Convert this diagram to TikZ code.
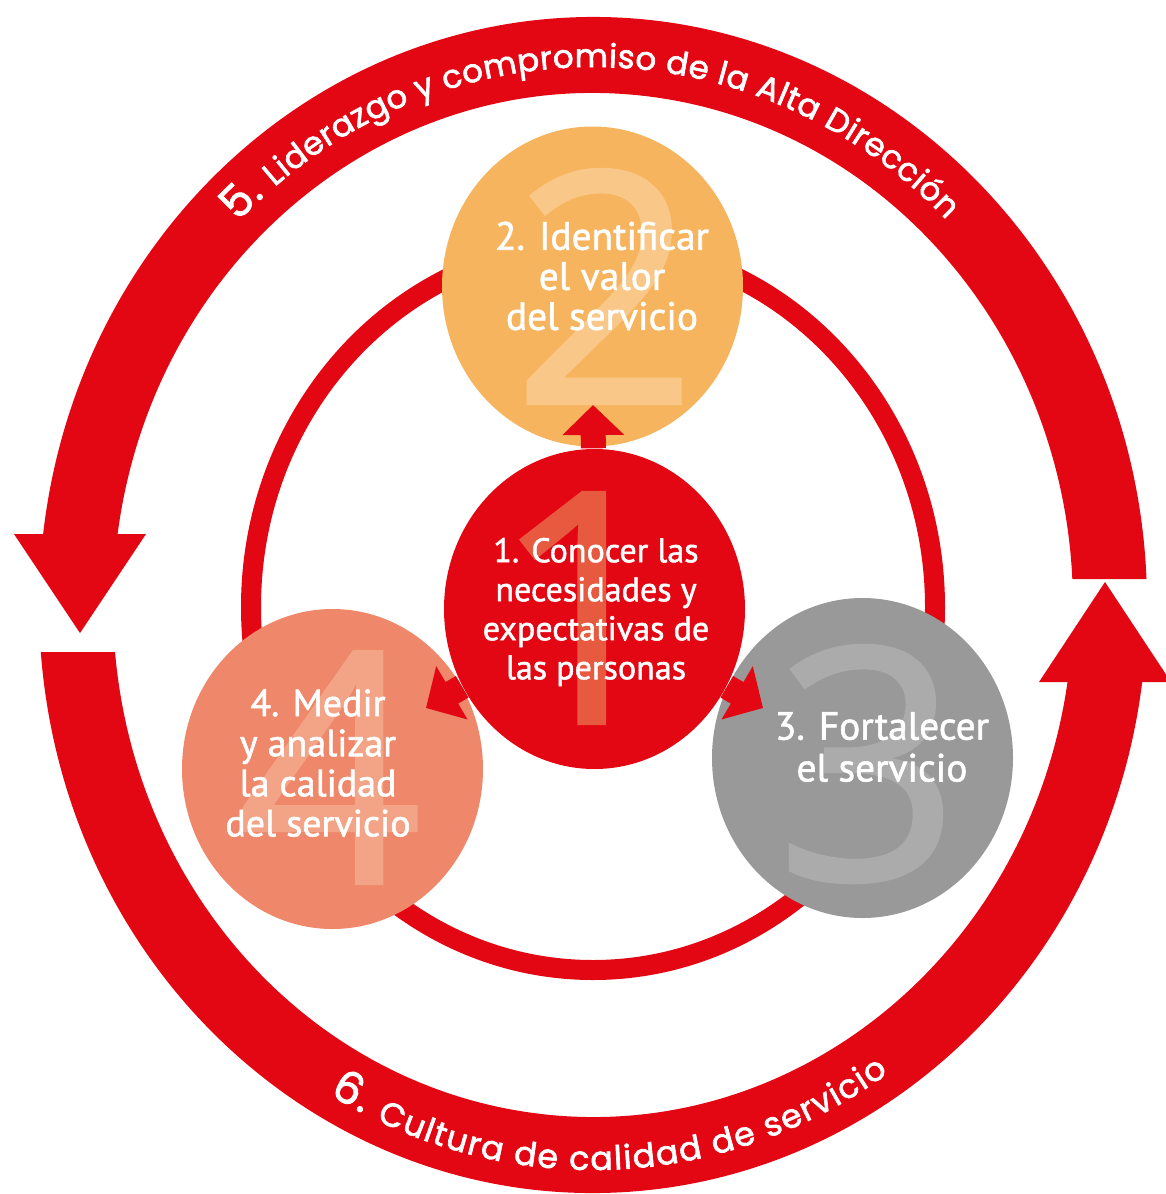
\documentclass[tikz,border=0pt]{standalone}
\usepackage{fontspec}
\setmainfont{PT Sans}
\newfontfamily\circfont{PT Sans}[FakeBold=1.5]
\newfontfamily\digitfont{Open Sans}[FakeBold=1]
\newfontfamily\arcfont{Poppins}[FakeBold=2]
\usetikzlibrary{arrows.meta,shapes.geometric,decorations.text}

\definecolor{mainred}{RGB}{227,6,19}
\definecolor{discorange}{RGB}{247,180,95}
\definecolor{numorange}{RGB}{249,200,136}
\definecolor{numred}{RGB}{232,90,64}
\definecolor{discsalmon}{RGB}{239,135,106}
\definecolor{numsalmon}{RGB}{243,163,134}
\definecolor{discgray}{RGB}{153,153,153}
\definecolor{numgray}{RGB}{171,171,171}

\newcommand\arcbig{\arcfont\fontsize{12.6}{12.6}\selectfont}
\newcommand\arcsmall{\arcfont\fontsize{9.2}{9.2}\selectfont}
\newcommand\arclow{\arcfont\fontsize{9.4}{9.4}\selectfont}

\begin{document}
\begin{tikzpicture}[x=0.1mm, y=0.1mm,
    disc/.style={ellipse, minimum width=30.1mm, minimum height=32mm, inner sep=0pt},
    disctext/.style={text=white, align=center, inner sep=0pt, font=\circfont\fontsize{11.2}{11.4}\selectfont},
    bignum/.style={inner sep=0pt, font=\digitfont\fontsize{92}{92}\selectfont},
    spoke/.style={draw=mainred, line width=2.5mm, -{Triangle[width=6mm,length=3mm]}}]
    \useasboundingbox (0,0) rectangle (1166,-1194);

    % Outer band 5 (top), ends cut level, head on the left
    \fill[mainred] (1146.5,-579) arc[start angle=2.53, end angle=173.06, x radius=554, y radius=588]
        -- (117.6,-534) arc[start angle=172.03, end angle=2.91, x radius=480, y radius=512] -- cycle;
    \fill[mainred] (14,-534) -- (146,-534) -- (80,-633) -- cycle;

    % Outer band 6 (bottom), head on the right
    \fill[mainred] (40.8,-652) arc[start angle=184.58, end angle=352.48, x radius=554, y radius=588]
        -- (1067.5,-682) arc[start angle=351.35, end angle=185.27, x radius=480, y radius=512] -- cycle;
    \fill[mainred] (1039,-682) -- (1171,-682) -- (1105,-582) -- cycle;

    % Inner ring
    \draw[mainred, line width=2mm] (593,-607) ellipse [x radius=342, y radius=363];

    % Discs
    \node[disc, fill=discorange] (c2) at (592.5,-286.5) {};
    \node[disc, fill=discgray] (c3) at (862.5,-758) {};
    \node[disc, fill=discsalmon] (c4) at (332.5,-769) {};
    \node[disc, fill=mainred] (c1) at (594.5,-609) {};

    % Big faint numbers
    \node[bignum, text=numorange] (n2) at (605,-286.5) {2};
    \node[bignum, text=numred] (n1) at (584,-608) {1};
    \node[bignum, text=numsalmon] (n4) at (330,-767.5) {4};
    \node[bignum, text=numgray] (n3) at (868,-764) {3};

    % Spokes from disc 1
    \coordinate (a2) at (593,-405);
    \coordinate (a4) at (426,-708);
    \coordinate (a3) at (763,-708);
    \draw[spoke] (c1) -- (a2);
    \draw[spoke] (c1) -- (a4);
    \draw[spoke] (c1) -- (a3);

    % Disc labels
    \node[disctext] (t2) at (602,-276) {2. Identificar\\el valor\\del servicio};
    \node[disctext, font=\circfont\fontsize{9.7}{11.1}\selectfont] (t1) at (596,-612)
        {1. Conocer las\\necesidades y\\expectativas de\\las personas};
    \node[disctext, font=\circfont\fontsize{10.8}{11.4}\selectfont] (t4) at (318,-763)
        {4. Medir\\y analizar\\la calidad\\del servicio};
    \node[disctext, font=\circfont\fontsize{11.2}{11.9}\selectfont] (t3) at (882,-747)
        {3. Fortalecer\\el servicio};

    % Curved labels on the outer bands
    \path[decorate, decoration={text along path, text color=white, text align=fit to path,
        text={|\arcbig|5. |\arcsmall|Liderazgo y compromiso de la Alta Dirección }}]
        (237.9,-222) arc[start angle=134.6, end angle=45.8, x radius=506, y radius=538];
    \path[decorate, decoration={text along path, text color=white, text align=fit to path,
        text={|\arcbig|6. |\arclow|Cultura de calidad de servicio }}]
        (329,-1094.3) arc[start angle=240, end angle=304, x radius=528, y radius=565];
\end{tikzpicture}
\end{document}
